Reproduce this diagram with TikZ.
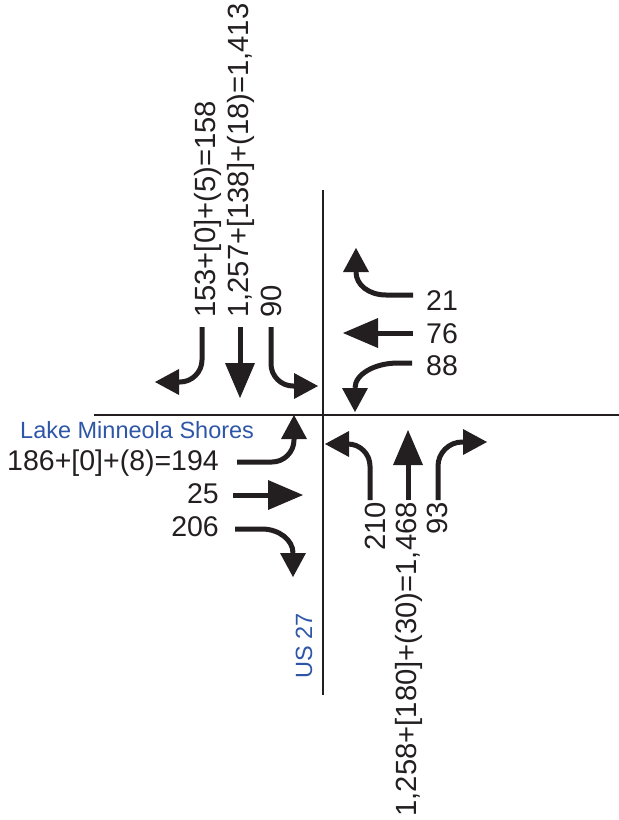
\documentclass[tikz,border=0pt]{standalone}
\usepackage{fontspec}
\setmainfont{Liberation Sans}
\usetikzlibrary{arrows.meta}
\definecolor{ink}{HTML}{231F20}
\definecolor{roadblue}{RGB}{46,86,166}
\begin{document}
\begin{tikzpicture}[x=1pt,y=-1pt,
  road/.style={draw=ink, line width=2.2pt},
  turnmove/.style={draw=ink, line width=5pt, -{Triangle[length=24pt,width=26pt,line width=0pt]}},
  thrumove/.style={draw=ink, line width=5pt, -{Triangle[length=35pt,width=30pt,line width=0pt]}},
  vol/.style={inner sep=0pt, font=\fontsize{28.5}{30}\selectfont, text=ink},
  volup/.style={vol, rotate=90, font=\fontsize{29.2}{30}\selectfont},
  street/.style={inner sep=0pt, font=\fontsize{23.5}{25}\selectfont, text=roadblue},
]
\useasboundingbox (0,0) rectangle (619,820);

% roads
\coordinate (nTop) at (323,190);
\coordinate (sBot) at (323,695);
\coordinate (wEnd) at (94,415);
\coordinate (eEnd) at (619,415);
\draw[road] (nTop) -- (sBot);
\draw[road] (wEnd) -- (eEnd);

% street names
\node[street, anchor=base west] (ewname) at (20,438) {Lake Minneola Shores};
\node[street, rotate=90, anchor=base west] (nsname) at (312,679) {US 27};

% southbound approach
\coordinate (sbL0) at (202,327); \coordinate (sbL1) at (202,360);
\coordinate (sbL2) at (180,382); \coordinate (sbL3) at (155,382);
\draw[turnmove] (sbL0) -- (sbL1) .. controls (202,372) and (192,382) .. (sbL2) -- (sbL3);
\coordinate (sbT0) at (240,327); \coordinate (sbT1) at (240,398);
\draw[thrumove] (sbT0) -- (sbT1);
\coordinate (sbR0) at (271,327); \coordinate (sbR1) at (271,364);
\coordinate (sbR2) at (293,386); \coordinate (sbR3) at (318,386);
\draw[turnmove] (sbR0) -- (sbR1) .. controls (271,376) and (281,386) .. (sbR2) -- (sbR3);

\node[volup, anchor=base west] (labSL) at (215,318) {153+[0]+(5)=158};
\node[volup, anchor=base west] (labST) at (248,318) {1,257+[138]+(18)=1,413};
\node[volup, anchor=base west] (labSR) at (281,318) {90};

% westbound approach
\coordinate (wbL0) at (413,295); \coordinate (wbL1) at (386,295);
\coordinate (wbL2) at (356,272); \coordinate (wbL3) at (356,248);
\draw[turnmove] (wbL0) -- (wbL1) .. controls (369,295) and (356,285) .. (wbL2) -- (wbL3);
\coordinate (wbT0) at (413,333); \coordinate (wbT1) at (343,333);
\draw[thrumove] (wbT0) -- (wbT1);
\coordinate (wbR0) at (412,363); \coordinate (wbR1) at (398,363);
\coordinate (wbR2) at (355,388); \coordinate (wbR3) at (355,412);
\draw[turnmove] (wbR0) -- (wbR1) .. controls (375,363) and (355,374) .. (wbR2) -- (wbR3);

\node[vol, anchor=base west] (lab21) at (426,310) {21};
\node[vol, anchor=base west] (lab76) at (426,343) {76};
\node[vol, anchor=base west] (lab88) at (426,375) {88};

% eastbound approach
\coordinate (ebL0) at (237,462); \coordinate (ebL1) at (272,462);
\coordinate (ebL2) at (294,440); \coordinate (ebL3) at (294,415);
\draw[turnmove] (ebL0) -- (ebL1) .. controls (284,462) and (294,452) .. (ebL2) -- (ebL3);
\coordinate (ebT0) at (233,495); \coordinate (ebT1) at (303,495);
\draw[thrumove] (ebT0) -- (ebT1);
\coordinate (ebR0) at (235,529); \coordinate (ebR1) at (262,529);
\coordinate (ebR2) at (293,553); \coordinate (ebR3) at (293,577);
\draw[turnmove] (ebR0) -- (ebR1) .. controls (279,529) and (293,540) .. (ebR2) -- (ebR3);

\node[vol, anchor=base east] (lab194) at (219,470) {186+[0]+(8)=194};
\node[vol, anchor=base east] (lab25) at (219,503) {25};
\node[vol, anchor=base east] (lab206) at (219,536) {206};

% northbound approach
\coordinate (nbL0) at (370,500); \coordinate (nbL1) at (370,466);
\coordinate (nbL2) at (348,444); \coordinate (nbL3) at (325,444);
\draw[turnmove] (nbL0) -- (nbL1) .. controls (370,454) and (360,444) .. (nbL2) -- (nbL3);
\coordinate (nbT0) at (408,500); \coordinate (nbT1) at (408,430);
\draw[thrumove] (nbT0) -- (nbT1);
\coordinate (nbR0) at (438,500); \coordinate (nbR1) at (438,466);
\coordinate (nbR2) at (462,442); \coordinate (nbR3) at (487,442);
\draw[turnmove] (nbR0) -- (nbR1) .. controls (438,453) and (449,442) .. (nbR2) -- (nbR3);

\node[volup, anchor=base east] (labNL) at (385,502) {210};
\node[volup, anchor=base east] (labNT) at (416,502) {1,258+[180]+(30)=1,468};
\node[volup, anchor=base east] (labNR) at (447,502) {93};
\end{tikzpicture}
\end{document}
